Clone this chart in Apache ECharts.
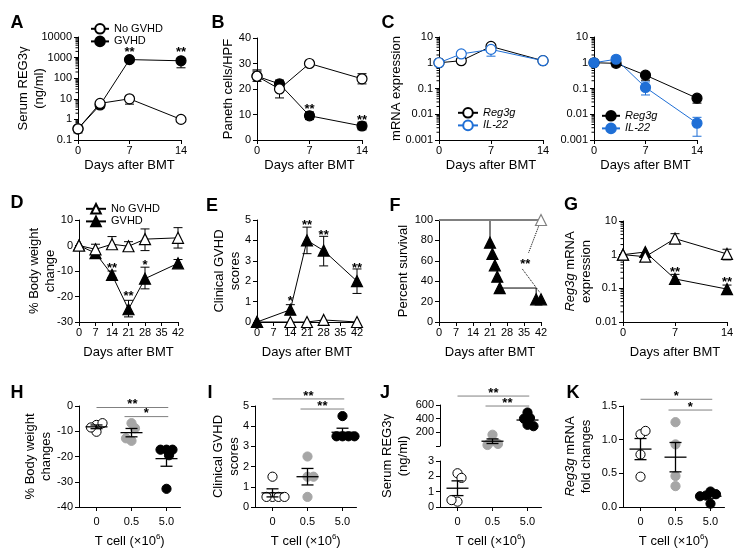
<!DOCTYPE html>
<html><head><meta charset="utf-8">
<script src="https://cdn.jsdelivr.net/npm/echarts@6/dist/echarts.min.js"></script>
<style>html,body{margin:0;padding:0;background:#fff}#c{width:747px;height:560px}</style>
</head><body><div id="c"></div>
<script>
const FONT = '"Liberation Sans", Arial, Helvetica, sans-serif';

// ================= DATA =================
// Panel A – Serum REG3γ (ng/ml)
const daysA = [0, 3, 7, 14];
const A_no = [0.35, 6, 10, 1];
const A_noLo = [0.22, 6, 5.5, 1];
const A_noHi = [0.35, 6, 10, 1];
const A_gv = [0.35, 5, 800, 700];
const A_gvLo = [0.35, 3.6, 800, 320];
const A_gvHi = [0.35, 5, 800, 700];
const A_starDays = [7, 14];
const A_starY = [1700, 1700];
const A_starTxt = ['**', '**'];

// Panel B – Paneth cells/HPF
const daysB = [0, 3, 7, 14];
const B_no = [25, 20, 30, 24];
const B_noLo = [25, 16.5, 30, 22];
const B_noHi = [27.5, 20, 30, 26];
const B_gv = [25, 22, 9.5, 5.5];
const B_gvLo = [23, 21, 8, 4];
const B_gvHi = [27, 23.5, 11, 7];
const B_starDays = [7, 14];
const B_starY = [11.8, 7.8];
const B_starTxt = ['**', '**'];

// Panel C – mRNA expression (No GVHD left, GVHD right)
const daysC = [0, 3, 7, 14];
const C1_reg = [1, 1.2, 4.3, 1.2];
const C1_regLo = [1, 1.2, 4.3, 1.2];
const C1_regHi = [1, 1.2, 5.2, 1.2];
const C1_il = [1, 2.2, 3.3, 1.2];
const C1_ilLo = [1, 2.2, 1.8, 1.2];
const C1_ilHi = [1, 2.2, 3.3, 1.2];
const C2_reg = [1, 0.95, 0.33, 0.042];
const C2_regLo = [1, 0.7, 0.21, 0.027];
const C2_regHi = [1, 0.95, 0.33, 0.042];
const C2_il = [1, 1.37, 0.11, 0.0045];
const C2_ilLo = [1, 1.37, 0.056, 0.0014];
const C2_ilHi = [1, 1.37, 0.18, 0.0076];

// Panel D – % body weight change
const daysD = [0, 7, 14, 21, 28, 42];
const D_no = [0, -1.5, 0.5, -0.3, 2.5, 3];
const D_noLo = [0, -2.5, -1, -2, -2, -1];
const D_noHi = [0, 0.5, 3.5, 1.5, 6.5, 7];
const D_gv = [0, -3, -11.5, -25, -13, -7];
const D_gvLo = [0, -3, -12.5, -28, -17, -8.5];
const D_gvHi = [0, -3, -10, -21.5, -8.5, -5.5];
const D_starDays = [14, 21, 28];
const D_starY = [-8.8, -19.8, -8.0];
const D_starTxt = ['**', '**', '*'];

// Panel E – clinical GVHD scores
const daysE = [0, 14, 21, 28, 42];
const E_no = [0, 0, 0, 0.1, 0];
const E_gv = [0, 0.6, 4.0, 3.5, 2.0];
const E_gvLo = [0, 0.4, 3.35, 2.75, 1.4];
const E_gvHi = [0, 0.85, 4.65, 4.2, 2.6];
const E_starDays = [14, 21, 28, 42];
const E_starY = [1.03, 4.71, 4.26, 2.65];
const E_starTxt = ['*', '**', '**', '**'];

// Panel F – percent survival
const F_noDays = [0, 42];
const F_noSurv = [100, 100];
const F_gvDays = [0, 21, 22, 23, 24, 25, 40, 42];
const F_gvSurv = [100, 77.8, 66.7, 55.6, 44.4, 33.3, 22.2, 22.2];
const F_dotA = [[42, 100], [36.9, 68]];
const F_dotB = [[34.3, 52], [41.5, 29]];
const F_starX = [35.5];
const F_starY = [56];
const F_starTxt = ['**'];

// Panel G – Reg3g mRNA expression
const daysG = [0, 3, 7, 14];
const G_no = [1, 0.87, 3.0, 1.05];
const G_noLo = [1, 0.87, 2.2, 0.7];
const G_noHi = [1, 0.87, 4.2, 1.45];
const G_gv = [1, 1.2, 0.19, 0.095];
const G_gvLo = [1, 1.2, 0.15, 0.07];
const G_gvHi = [1, 1.2, 0.26, 0.125];
const G_starDays = [7, 14];
const G_starY = [0.29, 0.145];
const G_starTxt = ['**', '**'];

// Panels H–K – T cell dose groups
const tCellLabels = ['0', '0.5', '5.0'];
const H_groups = [[-7.5, -6.8, -10.2, -8.5], [-6.8, -8.8, -13.8, -12.8], [-17.3, -17.3, -17.3, -19.5, -32.8]];
const I_groups = [[1.5, 0.5, 0.5, 0.5, 0.5], [2.5, 1.5, 1.5, 0.5], [4.5, 3.5, 3.5, 3.5, 3.5]];
const J_groups = [[2.2, 1.9, 0.35, 0.45], [165, 70, 30, 15], [490, 410, 400, 310, 290]];
const K_groups = [[1.08, 1.13, 0.78, 0.45], [1.26, 0.93, 0.46, 0.31], [0.23, 0.19, 0.17, 0.16, 0.05]];
const H_sig = { x1: [0, 0.8], x2: [2.05, 2.05], y: [-0.6, -4.2], txt: ['**', '*'] };
const I_sig = { x1: [0, 0.8], x2: [2.05, 2.05], y: [5.35, 4.85], txt: ['**', '**'] };
const J_sig = { x1: [0, 0.8], x2: [2.05, 2.05], y: [731, 585], txt: ['**', '**'] };
const K_sig = { x1: [0, 0.8], x2: [2.05, 2.05], y: [1.6, 1.44], txt: ['*', '*'] };

// ================= BUILDERS =================
const option = { animation: false, backgroundColor: '#fff', grid: [], xAxis: [], yAxis: [], series: [], legend: [], graphic: [] };
const BLUE = '#1f6fd6';
const GRAY = '#a6a6a6';

function addGrid(box, x, y) {
  const i = option.grid.length;
  option.grid.push({ left: box[0], top: box[1], width: box[2], height: box[3], containLabel: false });
  option.xAxis.push(Object.assign({ gridIndex: i }, x));
  option.yAxis.push(Object.assign({ gridIndex: i }, y));
  return i;
}
const nameStyle = { fontSize: 13, fontFamily: FONT, color: '#000', lineHeight: 16,
  rich: { i: { fontStyle: 'italic', fontSize: 13, fontFamily: FONT, color: '#000', lineHeight: 16 },
          sup: { fontSize: 8, fontFamily: FONT, color: '#000', verticalAlign: 'top', lineHeight: 10 } } };
function axBase(o) {
  return Object.assign({
    nameLocation: 'middle', nameTextStyle: nameStyle,
    axisLine: { show: true, onZero: false, lineStyle: { color: '#000', width: 1 } },
    axisTick: { show: true, length: 4, lineStyle: { color: '#000', width: 1 } },
    splitLine: { show: false }, minorTick: { show: false }
  }, o);
}
function xVal(min, max, interval, name, gap, margin) {
  return axBase({ type: 'value', min, max, interval, name, nameGap: gap,
    axisLabel: { fontSize: 11, fontFamily: FONT, color: '#000', margin: margin, showMinLabel: true, showMaxLabel: true } });
}
function xCat(name) {
  return axBase({ type: 'value', min: -0.5, max: 2.4, name, nameGap: 26,
    axisTick: { show: true, length: 4, lineStyle: { color: '#000' }, customValues: [0, 1, 2] },
    axisLabel: { fontSize: 11, fontFamily: FONT, color: '#000', margin: 9, customValues: [0, 1, 2],
      formatter: v => tCellLabels[Math.round(v)] } });
}
function yVal(min, max, interval, name, gap, fmt) {
  return axBase({ type: 'value', min, max, interval, name, nameGap: gap, nameRotate: 90, nameMoveOverlap: false,
    axisLabel: { fontSize: 11, fontFamily: FONT, color: '#000', margin: 6, showMinLabel: true, showMaxLabel: true, formatter: fmt } });
}
function yLog(min, max, split, name, gap) {
  return axBase({ type: 'log', logBase: 10, min, max, splitNumber: split, name, nameGap: gap, nameRotate: 90, nameMoveOverlap: false,
    axisLabel: { fontSize: 11, fontFamily: FONT, color: '#000', margin: 6, showMinLabel: true, showMaxLabel: true,
      formatter: v => String(+(+v).toPrecision(2)) } });
}
function lineS(gi, name, xs, ys, o) {
  const color = o.color || '#000';
  return { type: 'line', name, xAxisIndex: gi, yAxisIndex: gi, z: 4, clip: false,
    data: xs.map((x, i) => [x, ys[i]]), symbol: o.symbol || 'circle', symbolSize: o.size || 10,
    showSymbol: true, showAllSymbol: true, step: o.step || false,
    lineStyle: { color, width: o.lw || 1, type: o.dash || 'solid' },
    itemStyle: { color: o.open ? '#fff' : color, borderColor: color, borderWidth: 1.2 },
    emphasis: { disabled: true }, silent: true };
}
function errBars(gi, xs, mean, lo, hi, color, cap) {
  return { type: 'custom', xAxisIndex: gi, yAxisIndex: gi, z: 2, silent: true, clip: false,
    data: xs.map((x, i) => [x, mean[i], lo[i], hi[i]]), encode: { x: 0, y: 1 },
    renderItem: (p, api) => {
      const x = api.value(0);
      const pm = api.coord([x, api.value(1)]), pl = api.coord([x, api.value(2)]), ph = api.coord([x, api.value(3)]);
      const st = { stroke: color, lineWidth: 1 }; const ch = [];
      if (Math.abs(pl[1] - ph[1]) > 0.5) ch.push({ type: 'line', shape: { x1: pl[0], y1: pl[1], x2: ph[0], y2: ph[1] }, style: st });
      if (pl[1] - pm[1] > 0.5) ch.push({ type: 'line', shape: { x1: pl[0] - cap, y1: pl[1], x2: pl[0] + cap, y2: pl[1] }, style: st });
      if (pm[1] - ph[1] > 0.5) ch.push({ type: 'line', shape: { x1: ph[0] - cap, y1: ph[1], x2: ph[0] + cap, y2: ph[1] }, style: st });
      return { type: 'group', children: ch };
    } };
}
function starS(gi, xs, ys, txt) {
  return { type: 'custom', xAxisIndex: gi, yAxisIndex: gi, z: 6, silent: true, clip: false,
    data: xs.map((x, i) => [x, ys[i]]), encode: { x: 0, y: 1 },
    renderItem: (p, api) => {
      const c = api.coord([api.value(0), api.value(1)]);
      return { type: 'text', x: c[0], y: c[1], style: { text: txt[p.dataIndex], fontSize: 13, fontWeight: 'bold', fontFamily: FONT, fill: '#000', align: 'center', verticalAlign: 'middle' } };
    } };
}
function logMinor(gi, xmin, ymin, ymax) {
  const vals = [];
  for (let e = Math.round(Math.log10(ymin)); e < Math.round(Math.log10(ymax)); e++)
    for (let m = 2; m <= 9; m++) vals.push(m * Math.pow(10, e));
  return { type: 'custom', xAxisIndex: gi, yAxisIndex: gi, z: 1, silent: true, clip: false,
    data: vals.map(v => [xmin, v]), encode: { x: 0, y: 1 },
    renderItem: (p, api) => {
      const c = api.coord([api.value(0), api.value(1)]);
      return { type: 'line', shape: { x1: c[0] - 2.5, y1: c[1], x2: c[0], y2: c[1] }, style: { stroke: '#000', lineWidth: 1 } };
    } };
}
function swarm(pys, d) {
  const placed = []; const offs = []; let side = 1;
  pys.forEach((y, i) => {
    let chosen = 0;
    for (let k = 0; k < 400; k++) {
      const mag = Math.ceil(k / 2) * 0.5;
      const o = k === 0 ? 0 : (k % 2 === 1 ? side * mag : -side * mag);
      let ok = true;
      for (const q of placed) { const dx = o - q[0], dy = y - q[1]; if (dx * dx + dy * dy < d * d) { ok = false; break; } }
      if (ok) { chosen = o; break; }
    }
    if (chosen !== 0) side = -Math.sign(chosen);
    placed.push([chosen, y]); offs.push(chosen);
  });
  return offs;
}
const dotStyles = [{ fill: '#fff', stroke: '#000' }, { fill: GRAY, stroke: GRAY }, { fill: '#000', stroke: '#000' }];
function dotS(gi, groups, keep) {
  return { type: 'custom', xAxisIndex: gi, yAxisIndex: gi, z: 3, silent: true, clip: false,
    data: groups.map((g, i) => [i, g[0]]), encode: { x: 0, y: 1 },
    renderItem: (p, api) => {
      const k = p.dataIndex; const vals = groups[k].filter(keep);
      const bx = api.coord([k, 0])[0];
      const pys = vals.map(v => api.coord([k, v])[1]);
      const offs = swarm(pys, 6); const s = dotStyles[k];
      return { type: 'group', children: pys.map((py, j) => ({ type: 'circle', shape: { cx: bx + offs[j], cy: py, r: 4.6 }, style: { fill: s.fill, stroke: s.stroke, lineWidth: 1 } })) };
    } };
}
function meanSem(gi, groups, keep) {
  return { type: 'custom', xAxisIndex: gi, yAxisIndex: gi, z: 5, silent: true, clip: false,
    data: groups.map((g, i) => [i, g[0]]), encode: { x: 0, y: 1 },
    renderItem: (p, api) => {
      const g = groups[p.dataIndex]; const n = g.length;
      const m = g.reduce((a, b) => a + b, 0) / n;
      if (!keep(m)) return { type: 'group', children: [] };
      const sd = Math.sqrt(g.reduce((a, b) => a + (b - m) * (b - m), 0) / (n - 1));
      const se = sd / Math.sqrt(n);
      const c = api.coord([p.dataIndex, m]), lo = api.coord([p.dataIndex, m - se]), hi = api.coord([p.dataIndex, m + se]);
      const st = { stroke: '#000', lineWidth: 1.3 };
      return { type: 'group', children: [
        { type: 'line', shape: { x1: c[0] - 11, y1: c[1], x2: c[0] + 11, y2: c[1] }, style: st },
        { type: 'line', shape: { x1: c[0], y1: lo[1], x2: c[0], y2: hi[1] }, style: st },
        { type: 'line', shape: { x1: c[0] - 6, y1: lo[1], x2: c[0] + 6, y2: lo[1] }, style: st },
        { type: 'line', shape: { x1: c[0] - 6, y1: hi[1], x2: c[0] + 6, y2: hi[1] }, style: st } ] };
    } };
}
function sigS(gi, sig) {
  return { type: 'custom', xAxisIndex: gi, yAxisIndex: gi, z: 6, silent: true, clip: false,
    data: sig.y.map((y, i) => [sig.x1[i], y, sig.x2[i]]), encode: { x: 0, y: 1 },
    renderItem: (p, api) => {
      const a = api.coord([api.value(0), api.value(1)]), b = api.coord([api.value(2), api.value(1)]);
      return { type: 'group', children: [
        { type: 'line', shape: { x1: a[0], y1: a[1], x2: b[0], y2: b[1] }, style: { stroke: '#808080', lineWidth: 1 } },
        { type: 'text', x: (a[0] + b[0]) / 2, y: a[1] - 3, style: { text: sig.txt[p.dataIndex], fontSize: 13, fontWeight: 'bold', fontFamily: FONT, fill: '#000', align: 'center', verticalAlign: 'middle' } } ] };
    } };
}
const legendLabels = {};
function addLegend(names, labels, left, top, iw) {
  names.forEach((n, i) => legendLabels[n] = labels[i]);
  option.legend.push({ orient: 'vertical', left, top, padding: 0, itemWidth: iw, itemHeight: 12, itemGap: 1, selectedMode: false,
    data: names, formatter: n => legendLabels[n],
    textStyle: { fontSize: 11, fontFamily: FONT, color: '#000', rich: { i: { fontStyle: 'italic', fontSize: 11, fontFamily: FONT, color: '#000' } } } });
}
const S = option.series;
const DAYS = 'Days after BMT';
const TCELL = 'T cell (×10{sup|6})';

// ---- A ----
let g = addGrid([78, 37, 103, 103], xVal(0, 14, 7, DAYS, 17, 5), yLog(0.1, 10000, 5, 'Serum REG3γ\n(ng/ml)', 31));
S.push(logMinor(g, 0, 0.1, 10000));
S.push(errBars(g, daysA, A_no, A_noLo, A_noHi, '#000', 4.5), errBars(g, daysA, A_gv, A_gvLo, A_gvHi, '#000', 4.5));
S.push(lineS(g, 'A_gv', daysA, A_gv, {}), lineS(g, 'A_no', daysA, A_no, { open: true }));
S.push(starS(g, A_starDays, A_starY, A_starTxt));
addLegend(['A_no', 'A_gv'], ['No GVHD', 'GVHD'], 90, 23, 18);

// ---- B ----
g = addGrid([257, 38, 105, 102], xVal(0, 14, 7, DAYS, 17, 5), yVal(0, 40, 10, 'Paneth cells/HPF', 21));
S.push(errBars(g, daysB, B_no, B_noLo, B_noHi, '#000', 4.5), errBars(g, daysB, B_gv, B_gvLo, B_gvHi, '#000', 4.5));
S.push(lineS(g, 'B_gv', daysB, B_gv, {}), lineS(g, 'B_no', daysB, B_no, { open: true }));
S.push(starS(g, B_starDays, B_starY, B_starTxt));

// ---- C left ----
g = addGrid([439, 37, 104, 103], xVal(0, 14, 7, DAYS, 17, 5), yLog(0.001, 10, 4, 'mRNA expression', 35));
S.push(logMinor(g, 0, 0.001, 10));
S.push(errBars(g, daysC, C1_reg, C1_regLo, C1_regHi, '#000', 4.5), errBars(g, daysC, C1_il, C1_ilLo, C1_ilHi, BLUE, 4.5));
S.push(lineS(g, 'C1_reg', daysC, C1_reg, { open: true }), lineS(g, 'C1_il', daysC, C1_il, { open: true, color: BLUE }));
addLegend(['C1_reg', 'C1_il'], ['{i|Reg3g}', '{i|IL-22}'], 457, 107, 20);

// ---- C right ----
g = addGrid([594, 37, 103, 103], xVal(0, 14, 7, DAYS, 17, 5), yLog(0.001, 10, 4, '', 35));
S.push(logMinor(g, 0, 0.001, 10));
S.push(errBars(g, daysC, C2_reg, C2_regLo, C2_regHi, '#000', 4.5), errBars(g, daysC, C2_il, C2_ilLo, C2_ilHi, BLUE, 4.5));
S.push(lineS(g, 'C2_reg', daysC, C2_reg, {}), lineS(g, 'C2_il', daysC, C2_il, { color: BLUE }));
addLegend(['C2_reg', 'C2_il'], ['{i|Reg3g}', '{i|IL-22}'], 601, 110, 18);

// ---- D ----
g = addGrid([79, 220, 99, 102], xVal(0, 42, 7, DAYS, 22, 5), yVal(-30, 10, 10, '% Body weight\nchange', 21));
S.push(errBars(g, daysD, D_no, D_noLo, D_noHi, '#000', 4.5), errBars(g, daysD, D_gv, D_gvLo, D_gvHi, '#000', 4.5));
S.push(lineS(g, 'D_gv', daysD, D_gv, { symbol: 'triangle', size: 11 }), lineS(g, 'D_no', daysD, D_no, { symbol: 'triangle', size: 11, open: true }));
S.push(starS(g, D_starDays, D_starY, D_starTxt));
addLegend(['D_no', 'D_gv'], ['No GVHD', 'GVHD'], 85, 203, 20);

// ---- E ----
g = addGrid([257, 220, 100, 102], xVal(0, 42, 7, DAYS, 22, 5), yVal(0, 5, 1, 'Clinical GVHD\nscores', 14));
S.push(errBars(g, daysE, E_gv, E_gvLo, E_gvHi, '#000', 4.5));
S.push(lineS(g, 'E_no', daysE, E_no, { symbol: 'triangle', size: 11, open: true }), lineS(g, 'E_gv', daysE, E_gv, { symbol: 'triangle', size: 11 }));
S.push(starS(g, E_starDays, E_starY, E_starTxt));

// ---- F ----
g = addGrid([439, 220, 102, 102], xVal(0, 42, 7, DAYS, 22, 5), yVal(0, 100, 20, 'Percent survival', 28));
const fGv = lineS(g, 'F_gv', F_gvDays, F_gvSurv, { symbol: 'triangle', size: 11, step: 'end' });
fGv.data = F_gvDays.map((x, i) => i === 0 ? { value: [x, F_gvSurv[i]], symbol: 'none' } : [x, F_gvSurv[i]]);
const fNo = lineS(g, 'F_no', F_noDays, F_noSurv, { symbol: 'triangle', size: 11, open: true, color: '#808080', lw: 2 });
fNo.data = F_noDays.map((x, i) => i === 0 ? { value: [x, F_noSurv[i]], symbol: 'none' } : [x, F_noSurv[i]]);
fNo.z = 5;
const dotA = lineS(g, 'F_dA', F_dotA.map(p => p[0]), F_dotA.map(p => p[1]), { symbol: 'none', dash: 'dotted' });
const dotB = lineS(g, 'F_dB', F_dotB.map(p => p[0]), F_dotB.map(p => p[1]), { symbol: 'none', dash: 'dotted' });
dotA.z = dotB.z = 2;
S.push(dotA, dotB, fGv, fNo, starS(g, F_starX, F_starY, F_starTxt));

// ---- G ----
g = addGrid([623, 221, 104, 101], xVal(0, 14, 7, DAYS, 22, 5), yLog(0.01, 10, 3, '{i|Reg3g} mRNA\nexpression', 29));
S.push(logMinor(g, 0, 0.01, 10));
S.push(errBars(g, daysG, G_no, G_noLo, G_noHi, '#000', 4.5), errBars(g, daysG, G_gv, G_gvLo, G_gvHi, '#000', 4.5));
S.push(lineS(g, 'G_gv', daysG, G_gv, { symbol: 'triangle', size: 11 }), lineS(g, 'G_no', daysG, G_no, { symbol: 'triangle', size: 11, open: true }));
S.push(starS(g, G_starDays, G_starY, G_starTxt));

// ---- H ----
const all = () => true;
g = addGrid([79, 406, 101.5, 101], xCat(TCELL), yVal(-40, 0, 10, '% Body weight\nchanges', 25));
S.push(dotS(g, H_groups, all), meanSem(g, H_groups, all), sigS(g, H_sig));

// ---- I ----
g = addGrid([255, 406, 101.5, 101], xCat(TCELL), yVal(0, 5, 1, 'Clinical GVHD\nscores', 13));
S.push(dotS(g, I_groups, all), meanSem(g, I_groups, all), sigS(g, I_sig));

// ---- J (broken axis) ----
const frameX = { type: 'value', min: -0.5, max: 2.4, show: false };
const gF = addGrid([440, 405, 101.5, 102], frameX,
  axBase({ type: 'value', min: 0, max: 1, name: 'Serum REG3γ\n(ng/ml)', nameGap: 29, nameRotate: 90, nameMoveOverlap: false,
    axisLine: { show: false }, axisTick: { show: false }, axisLabel: { show: false } }));
const gJu = addGrid([440, 405, 101.5, 41], { type: 'value', min: -0.5, max: 2.4, show: false },
  yVal(0, 600, 200, '', 10, v => v === 0 ? '' : String(v)));
const gJl = addGrid([440, 461, 101.5, 46], xCat(TCELL), yVal(0, 3, 1, '', 10));
const up = v => v > 3, low = v => v <= 3;
S.push(dotS(gJu, J_groups, up), dotS(gJl, J_groups, low), meanSem(gJu, J_groups, up), meanSem(gJl, J_groups, low), sigS(gJu, J_sig));

// ---- K ----
g = addGrid([623, 406, 101.5, 101], xCat(TCELL), yVal(0, 1.5, 0.5, '{i|Reg3g} mRNA\nfold changes', 29, v => v.toFixed(1)));
S.push(dotS(g, K_groups, all), meanSem(g, K_groups, all), sigS(g, K_sig));

// ---- panel letters ----
[['A', 17, 23], ['B', 218, 23], ['C', 388, 23], ['D', 17, 203], ['E', 212, 206], ['F', 395, 206], ['G', 571, 205],
 ['H', 17, 393], ['I', 210, 393], ['J', 385, 393], ['K', 573, 393]].forEach(([t, x, y]) => {
  option.graphic.push({ type: 'text', x, y, silent: true,
    style: { text: t, fontSize: 18, fontWeight: 'bold', fontFamily: FONT, fill: '#000', align: 'center', verticalAlign: 'middle' } });
});

const chart = echarts.init(document.getElementById('c'), null, { renderer: 'canvas' });
chart.setOption(option);
</script>
</body></html>
